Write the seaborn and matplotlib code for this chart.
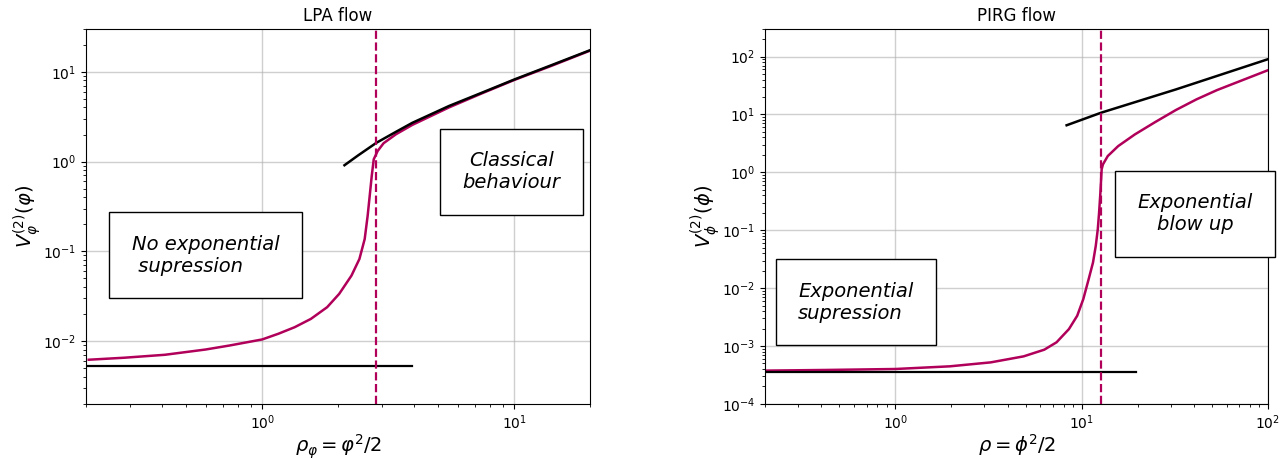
import matplotlib
matplotlib.use("Agg")
import matplotlib.pyplot as plt
from matplotlib.ticker import LogLocator, NullFormatter
import seaborn as sns

# LPA flow (left panel)
lpa_rho = [0.205, 0.284, 0.411, 0.596, 0.743, 1.0, 1.16, 1.345, 1.56, 1.81,
           2.02, 2.26, 2.43, 2.55, 2.62, 2.67, 2.72, 2.77, 2.87, 3.03, 3.39,
           3.94, 5.5, 7.5, 10.0, 14.0, 20.0]
lpa_v = [0.00621, 0.00654, 0.00705, 0.00807, 0.00895, 0.01045, 0.0121,
         0.0143, 0.0177, 0.0239, 0.0336, 0.0537, 0.0822, 0.137, 0.249, 0.416,
         0.693, 1.06, 1.31, 1.60, 2.01, 2.56, 4.0, 5.8, 8.1, 11.6, 17.2]
lpa_classical_rho = [2.12, 2.4, 2.84, 3.4, 3.94, 5.5, 7.5, 10.0, 14.0, 20.0]
lpa_classical_v = [0.91, 1.17, 1.62, 2.15, 2.7, 4.15, 5.9, 8.2, 11.8, 17.4]
lpa_flat_rho = [0.2, 3.94]
lpa_flat_v = [0.0053, 0.0053]
lpa_rho_c = 2.84

# PIRG flow (right panel)
pirg_rho = [0.199, 0.426, 1.0, 1.96, 3.25, 4.88, 6.30, 7.33, 8.54, 9.46,
            10.2, 10.9, 11.5, 11.9, 12.2, 12.4, 12.6, 12.8, 13.0, 13.8, 15.7,
            19.3, 24.8, 32.0, 41.3, 53.2, 72.2, 100.0]
pirg_v = [3.76e-4, 3.86e-4, 4.01e-4, 4.46e-4, 5.22e-4, 6.63e-4, 8.65e-4,
          1.16e-3, 1.96e-3, 3.33e-3, 6.46e-3, 0.0143, 0.0277, 0.0537, 0.104,
          0.202, 0.446, 1.13, 1.37, 1.91, 2.84, 4.52, 7.38, 11.9, 18.2, 26.3,
          38.6, 58.1]
pirg_classical_rho = [8.3, 12.7, 32.0, 100.0]
pirg_classical_v = [6.5, 10.7, 27.0, 90.0]
pirg_flat_rho = [0.2, 19.5]
pirg_flat_v = [3.6e-4, 3.6e-4]
pirg_rho_c = 12.7

magenta = "#b0005a"

fig = plt.figure(figsize=(12.86, 4.59), dpi=100)
ax1 = fig.add_axes([0.0669, 0.120, 0.392, 0.817])
ax2 = fig.add_axes([0.595, 0.120, 0.391, 0.817])


def draw(ax, rho, v, crho, cv, frho, fv, rc):
    sns.lineplot(x=rho, y=v, ax=ax, color=magenta, lw=1.8, sort=False)
    sns.lineplot(x=crho, y=cv, ax=ax, color="black", lw=1.8)
    sns.lineplot(x=frho, y=fv, ax=ax, color="black", lw=1.6)
    ax.axvline(rc, color=magenta, ls="--", lw=1.6)
    ax.set_xscale("log")
    ax.set_yscale("log")
    # minor ticks at 2..9 of every decade, no labels
    for axis in (ax.xaxis, ax.yaxis):
        axis.set_major_locator(LogLocator(base=10, numticks=20))
        axis.set_minor_locator(LogLocator(base=10, subs=range(2, 10), numticks=200))
        axis.set_minor_formatter(NullFormatter())
    ax.grid(True, which="major", color="#b0b0b0", alpha=0.6, lw=1.0)


box = dict(boxstyle="square,pad=1.15", fc="white", ec="black", lw=1.0)

draw(ax1, lpa_rho, lpa_v, lpa_classical_rho, lpa_classical_v,
     lpa_flat_rho, lpa_flat_v, lpa_rho_c)
ax1.set_xlim(0.2, 20)
ax1.set_ylim(0.002, 30)
ax1.set_title("LPA flow", fontsize=12)
ax1.set_xlabel(r"$\rho_\varphi = \varphi^2/2$", fontsize=14, labelpad=0)
ax1.set_ylabel(r"$V^{(2)}_\varphi(\varphi)$", fontsize=14, labelpad=0)
ax1.text(0.237, 0.397, "No exponential\n supression", transform=ax1.transAxes,
         ha="center", va="center", multialignment="left", fontsize=14,
         style="italic", bbox=box)
ax1.text(0.844, 0.619, "Classical\nbehaviour", transform=ax1.transAxes,
         ha="center", va="center", fontsize=14, style="italic", bbox=box)

draw(ax2, pirg_rho, pirg_v, pirg_classical_rho, pirg_classical_v,
     pirg_flat_rho, pirg_flat_v, pirg_rho_c)
ax2.set_xlim(0.2, 100)
ax2.set_ylim(1e-4, 300)
ax2.set_title("PIRG flow", fontsize=12)
ax2.set_xlabel(r"$\rho = \phi^2/2$", fontsize=14, labelpad=0)
ax2.set_ylabel(r"$V^{(2)}_\phi(\phi)$", fontsize=14, labelpad=0)
ax2.text(0.18, 0.271, "Exponential\nsupression", transform=ax2.transAxes,
         ha="center", va="center", multialignment="left", fontsize=14,
         style="italic", bbox=box)
ax2.text(0.855, 0.507, "Exponential\nblow up", transform=ax2.transAxes,
         ha="center", va="center", fontsize=14, style="italic", bbox=box,
         clip_on=False)

fig.savefig("out.png", dpi=100)
